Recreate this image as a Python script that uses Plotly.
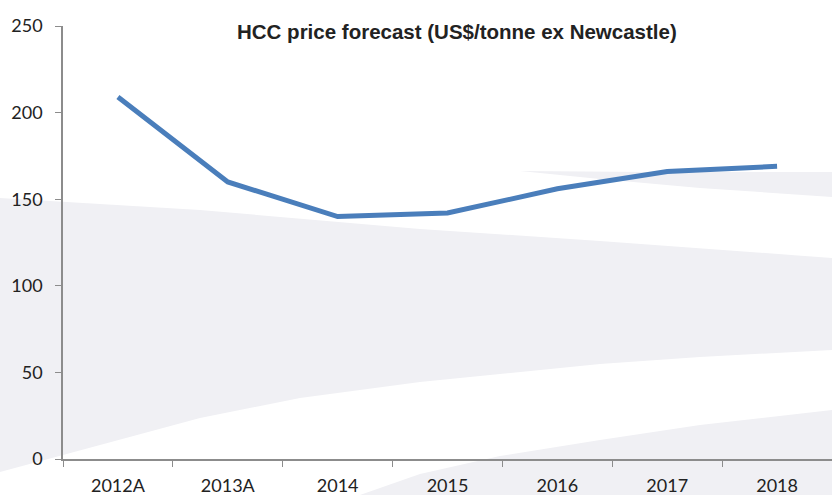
import plotly.graph_objects as go

anos = ["2012A", "2013A", "2014", "2015", "2016", "2017", "2018"]
preco_hcc = [209, 160, 140, 142, 156, 166, 169]
ticks_y = [0, 50, 100, 150, 200, 250]

LARGURA, ALTURA = 832, 495
ESQ, DIR, TOPO, BAIXO = 63, 0, 26, 36
CINZA_FUNDO = "#f0f0f4"


def caminho(pontos):
    # pontos em pixels da imagem -> coordenadas "paper"
    w = LARGURA - ESQ - DIR
    h = ALTURA - TOPO - BAIXO
    conv = [((x - ESQ) / w, (ALTURA - BAIXO - y) / h) for x, y in pontos]
    return "M " + " L ".join(f"{x:.4f},{y:.4f}" for x, y in conv) + " Z"


# faixas decorativas do fundo
faixa_grande = [
    (0, 198), (200, 210), (420, 229), (600, 241), (832, 258),
    (832, 350), (700, 357), (600, 364), (420, 382), (300, 398),
    (200, 418), (63, 455), (0, 472),
]
faixa_baixo = [
    (360, 495), (420, 474), (500, 456), (600, 440), (700, 425), (832, 410),
    (832, 495),
]
faixa_alto = [
    (520, 171), (650, 172), (832, 172), (832, 197), (700, 188), (600, 179),
]

shapes = [
    dict(type="path", path=caminho(p), xref="paper", yref="paper",
         fillcolor=CINZA_FUNDO, line=dict(width=0), layer="below")
    for p in (faixa_grande, faixa_baixo, faixa_alto)
]

fig = go.Figure()
fig.add_trace(
    go.Scatter(
        x=anos, y=preco_hcc, mode="lines",
        line=dict(color="#4a7ebb", width=5),
        showlegend=False, hoverinfo="skip",
    )
)

fig.update_layout(
    width=LARGURA, height=ALTURA,
    margin=dict(l=ESQ, r=DIR, t=TOPO, b=BAIXO),
    paper_bgcolor="white", plot_bgcolor="rgba(0,0,0,0)",
    shapes=shapes,
    font=dict(family="Lato", size=18, color="#222222"),
    annotations=[
        dict(
            text="<b>HCC price forecast (US$/tonne ex Newcastle)</b>",
            x=(457 - ESQ) / (LARGURA - ESQ - DIR), y=1.0, xref="paper", yref="paper",
            xanchor="center", yanchor="middle", yshift=-5, showarrow=False,
            font=dict(family="Liberation Sans", size=20.5, color="#222222"),
        )
    ],
)
fig.update_xaxes(
    type="category", range=[-0.5, 6.5],
    showline=True, linecolor="#8c8c8c", linewidth=1.5,
    ticks="outside", ticklen=6, tickcolor="#8c8c8c", tickson="boundaries",
    ticklabelstandoff=10,
    showgrid=False, zeroline=False,
)
fig.update_yaxes(
    range=[0, 250], tickvals=ticks_y,
    showline=True, linecolor="#8c8c8c", linewidth=1.5,
    ticks="outside", ticklen=6, tickcolor="#8c8c8c",
    ticklabelstandoff=9,
    showgrid=False, zeroline=False,
)

fig.write_html(
    "out.html",
    config={"displayModeBar": False},
    post_script="document.body.style.margin='0';",
)
